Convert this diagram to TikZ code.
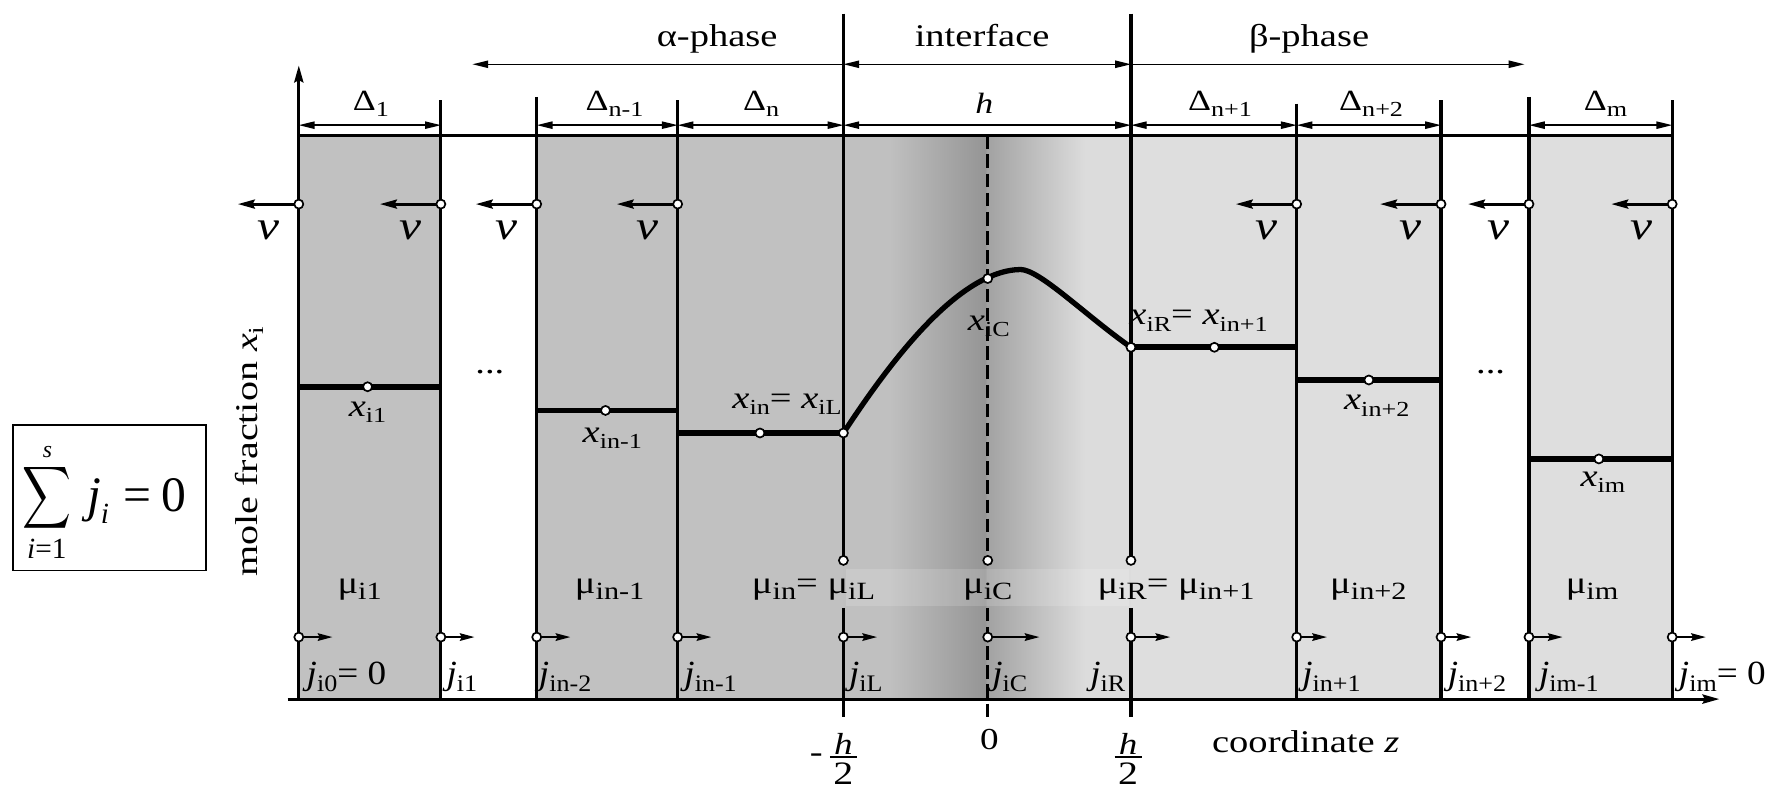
\documentclass[tikz,border=0pt]{standalone}
\usepackage{fontspec}
\setmainfont{Liberation Serif}
\usepackage{graphicx}
\usetikzlibrary{arrows.meta}
\definecolor{colA}{HTML}{C1C1C1}
\definecolor{colB}{HTML}{DEDEDE}
\definecolor{ifA}{HTML}{C0C0C0}
\definecolor{ifD}{HTML}{959595}
\definecolor{ifM}{HTML}{A2A2A2}
\definecolor{ifL}{HTML}{DCDCDC}
\pgfdeclarehorizontalshading{iface}{100bp}{color(0bp)=(ifA); color(25bp)=(ifA); color(33bp)=(ifA); color(49.6bp)=(ifD); color(50bp)=(ifM); color(67bp)=(ifL); color(75bp)=(ifL); color(100bp)=(ifL)}
\newcommand\fs[1]{\fontsize{#1}{#1}\selectfont}
\newcommand\lo[2][19]{\raisebox{-0.2em}{\fs{#1}#2}}
\tikzset{
  lab/.style={inner sep=0pt, outer sep=0pt, xscale=1.22, font=\fs{28}},
  jlab/.style={inner sep=0pt, outer sep=0pt, xscale=1.1, font=\fs{30}},
  vlab/.style={lab, font=\fs{36}},
  dlab/.style={lab, font=\fs{26}},
  ln/.style={line width=2.8pt},
  tip/.style={-{Stealth[length=15pt,width=8pt,inset=2pt]}},
  dimarr/.style={line width=1.2pt, {Triangle[length=14pt,width=6.5pt]}-{Triangle[length=14pt,width=6.5pt]}},
  onearr/.style={line width=1.2pt, -{Triangle[length=14pt,width=6.5pt]}},
  vel/.style={line width=2.5pt, -{Stealth[length=15pt,width=8pt,inset=2pt]}},
  flux/.style={line width=2.3pt, -{Stealth[length=13pt,width=6.5pt,inset=1.5pt]}},
  lev/.style={line width=5.2pt},
  dot/.style={fill=white, draw=black, line width=1.5pt},
}
\begin{document}
\begin{tikzpicture}[x=1pt,y=-1pt]
\useasboundingbox (0,0) rectangle (1568,699);
% fills
\fill[colA] (265,120) rectangle (391,620);
\fill[colA] (476,120) rectangle (748,620);
\shade[shading=iface] (748,120) rectangle (1003,620);
\fill[colB] (1003,120) rectangle (1278,620);
\fill[colB] (1356,120) rectangle (1483,620);
\fill[white, opacity=0.15] (750,505) rectangle (1001,537);
% top line and axes
\draw[ln] (265,120) -- (1483,120);
\draw[ln, tip] (255,620) -- (1525,620);
\draw[ln, tip] (265,620) -- (265,58);
\foreach \x/\t in {391/89, 476/86, 601/89, 1150/92, 1278/89, 1356/86, 1483/89}
  \draw[ln] (\x,\t) -- (\x,620);
\draw[ln] (748,12) -- (748,497) (748,539) -- (748,636);
\draw[ln] (1003,12) -- (1003,497) (1003,539) -- (1003,636);
\draw[ln, dash pattern=on 12pt off 5pt] (876,120) -- (876,497) (876,539) -- (876,636);
% phase arrows
\draw[onearr] (748,57) -- (419,57);
\draw[dimarr] (748,57) -- (1003,57);
\draw[onearr] (1003,57) -- (1352,57);
\node[lab, anchor=base] (alpha) at (636,41) {α-phase};
\node[lab, anchor=base] (interf) at (871,41) {interface};
\node[lab, anchor=base] (beta) at (1161,41) {β-phase};
% dimension arrows
\foreach \a/\b in {265/391, 476/601, 601/748, 748/1003, 1003/1150, 1150/1278, 1356/1483}
  \draw[dimarr] (\a,111) -- (\b,111);
\node[dlab, anchor=base] (d1) at (329,98) {Δ\lo{1}};
\node[dlab, anchor=base] (dn1) at (545,98) {Δ\lo{n-1}};
\node[dlab, anchor=base] (dn) at (675,98) {Δ\lo{n}};
\node[dlab, anchor=base] (dh) at (873,101) {\textit{h}};
\node[dlab, anchor=base] (dnp1) at (1082,98) {Δ\lo{n+1}};
\node[dlab, anchor=base] (dnp2) at (1216,98) {Δ\lo{n+2}};
\node[dlab, anchor=base] (dm) at (1424,98) {Δ\lo{m}};
% velocity arrows
\foreach \x [count=\k] in {265,391,476,601,1150,1278,1356,1483} {
  \draw[vel] (\x,181) -- ++(-54,0);
  \filldraw[dot] (\x,181) circle (4pt);
  \node[vlab, anchor=base] (v\k) at ({\x-27},212) {\textit{v}};
}
% levels
\draw[lev] (265,343) -- (391,343);
\draw[lev] (476,364) -- (601,364);
\draw[lev] (601,384) -- (748,384);
\draw[line width=4.7pt] (748,384) .. controls (790,320) and (850,240) .. (905,239) .. controls (922,239) and (963,280) .. (1003,308);
\draw[lev] (1003,308) -- (1150,308);
\draw[lev] (1150,337) -- (1278,337);
\draw[lev] (1356,407) -- (1483,407);
\foreach \p in {(326,343),(537,364),(674,384),(748,384),(876,247),(1003,308),(1077,308),(1214,337),(1418,407),(748,497),(876,497),(1003,497)}
  \filldraw[dot] \p circle (4pt);
% x labels
\node[lab, anchor=base] (xi1) at (326,369.5) {\textit{x}\lo{i1}};
\node[lab, anchor=base] (xin1) at (543,392) {\textit{x}\lo{in-1}};
\node[lab, anchor=base] (xin) at (698,362) {\textit{x}\lo{in}= \textit{x}\lo{iL}};
\node[lab, anchor=base] (xic) at (877,293) {\textit{x}\lo{iC}};
\node[lab, anchor=base] (xir) at (1063,288) {\textit{x}\lo{iR}= \textit{x}\lo{in+1}};
\node[lab, anchor=base] (xin2) at (1221,363.6) {\textit{x}\lo{in+2}};
\node[lab, anchor=base] (xim) at (1421.6,431.6) {\textit{x}\lo{im}};
\node[lab, anchor=base] (dots1) at (434.5,331) {...};
\node[lab, anchor=base] (dots2) at (1322,331) {...};
% mu labels
\node[lab, anchor=base] (mi1) at (319,526) {μ\lo[22]{i1}};
\node[lab, anchor=base] (min1) at (540.7,526) {μ\lo[22]{in-1}};
\node[lab, anchor=base] (min) at (721.5,526) {μ\lo[22]{in}= μ\lo[22]{iL}};
\node[lab, anchor=base] (mic) at (876,526) {μ\lo[22]{iC}};
\node[lab, anchor=base] (mir) at (1043,526) {μ\lo[22]{iR}= μ\lo[22]{in+1}};
\node[lab, anchor=base] (min2) at (1213.6,526) {μ\lo[22]{in+2}};
\node[lab, anchor=base] (mim) at (1412,526) {μ\lo[22]{im}};
% flux arrows
\foreach \x/\l in {265/30,391/30,476/30,601/30,748/30,876/46,1003/35,1150/27,1278/27,1356/30,1483/30} {
  \draw[flux] (\x,565) -- ++(\l,0);
  \filldraw[dot] (\x,565) circle (4pt);
}
\node[jlab, anchor=base west] (j0) at (272,607.5) {\textit{j}\lo[21]{i0}= 0};
\node[jlab, anchor=base west] (j1) at (396,607.5) {\textit{j}\lo[21]{i1}};
\node[jlab, anchor=base west] (jn2) at (478,607.5) {\textit{j}\lo[21]{in-2}};
\node[jlab, anchor=base west] (jn1) at (607,607.5) {\textit{j}\lo[21]{in-1}};
\node[jlab, anchor=base west] (jl) at (753,607.5) {\textit{j}\lo[21]{iL}};
\node[jlab, anchor=base west] (jc) at (880,607.5) {\textit{j}\lo[21]{iC}};
\node[jlab, anchor=base east] (jr) at (998,607.5) {\textit{j}\lo[21]{iR}};
\node[jlab, anchor=base west] (jnp1) at (1155,607.5) {\textit{j}\lo[21]{in+1}};
\node[jlab, anchor=base west] (jnp2) at (1284,607.5) {\textit{j}\lo[21]{in+2}};
\node[jlab, anchor=base west] (jm1) at (1365,607.5) {\textit{j}\lo[21]{im-1}};
\node[jlab, anchor=base west] (jm) at (1489,607.5) {\textit{j}\lo[21]{im}= 0};
% ticks labels
\node[lab, font=\fs{27}, anchor=base] (hn1) at (748,669) {\textit{h}};
\draw[line width=1.4pt] (736,671.5) -- (760,671.5);
\node[lab, font=\fs{29}, anchor=base] (hd1) at (748,695.5) {2};
\node[lab, anchor=center] (minus) at (724,672) {-};
\node[lab, font=\fs{27}, anchor=base] (zero) at (877.5,665) {0};
\node[lab, font=\fs{27}, anchor=base] (hn2) at (1000.5,669) {\textit{h}};
\draw[line width=1.4pt] (988.5,671.5) -- (1012.5,671.5);
\node[lab, font=\fs{29}, anchor=base] (hd2) at (1000.5,695.5) {2};
\node[lab, anchor=base west] (coord) at (1075,667.5) {coordinate \textit{z}};
% y label
\node[rotate=90, anchor=base, inner sep=0pt, font=\fs{28}] (mf) at (228.5,400.5) {\scalebox{1.27}[1]{mole fraction \textit{x}\lo{i}}};
% sum box
\node[draw, line width=1.3pt, minimum width=171pt, minimum height=129pt, inner sep=0pt] (box) at (97,441.5) {};
\node[inner sep=0pt] (sig) at (42,442) {\scalebox{3.0}[3.85]{$\displaystyle\sum$}};
\node[inner sep=0pt, anchor=base, font=\fs{21}] (sup) at (42,406) {\textit{s}};
\node[inner sep=0pt, anchor=base, font=\fs{26}] (lim) at (41.5,495) {\textit{i}=1};
\node[inner sep=0pt, anchor=base west, font=\fs{44}] (jeq) at (77,453.8) {\textit{j}\raisebox{-0.23em}{\fs{26}\textit{i}}\hspace{13pt}=\hspace{9pt}0};
\end{tikzpicture}
\end{document}
